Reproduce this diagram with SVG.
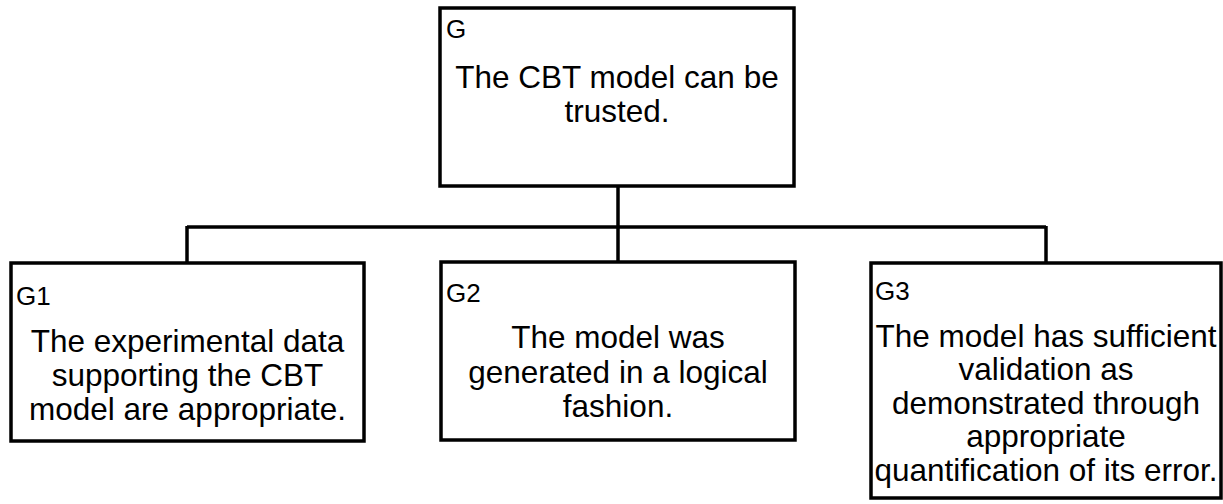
<svg xmlns="http://www.w3.org/2000/svg" width="1223" height="504" viewBox="0 0 1223 504">
  <style>
    .box { fill: #ffffff; stroke: #000000; stroke-width: 3.5; }
    .wire { fill: none; stroke: #000000; stroke-width: 3.5; }
    .id { font-family: "Liberation Sans", Arial, sans-serif; font-size: 26px; fill: #000000; }
    .body { font-family: "Liberation Sans", Arial, sans-serif; font-size: 31.5px; fill: #000000; text-anchor: middle; }
  </style>
  <rect width="1223" height="504" fill="#ffffff"/>

  <!-- tree connectors -->
  <g id="connectors">
    <path class="wire" d="M618 186 V262"/>
    <path class="wire" d="M187 227 H1046"/>
    <path class="wire" d="M187 226 V263"/>
    <path class="wire" d="M1046 226 V263"/>
  </g>

  <!-- top goal -->
  <g id="G">
    <rect class="box" x="440" y="8" width="354" height="178"/>
    <text class="id" x="446" y="38">G</text>
    <text class="body" x="617" y="88">The CBT model can be</text>
    <text class="body" x="617" y="122">trusted.</text>
  </g>

  <g id="G1">
    <rect class="box" x="11" y="263" width="353" height="178"/>
    <text class="id" x="16" y="305">G1</text>
    <text class="body" x="187.5" y="352">The experimental data</text>
    <text class="body" x="187.5" y="386">supporting the CBT</text>
    <text class="body" x="187.5" y="420">model are appropriate.</text>
  </g>

  <g id="G2">
    <rect class="box" x="441" y="262" width="354" height="178"/>
    <text class="id" x="446" y="302">G2</text>
    <text class="body" x="618" y="348">The model was</text>
    <text class="body" x="618" y="383">generated in a logical</text>
    <text class="body" x="618" y="417">fashion.</text>
  </g>

  <g id="G3">
    <rect class="box" x="871" y="263" width="350" height="235"/>
    <text class="id" x="875" y="300">G3</text>
    <text class="body" x="1046" y="346.5">The model has sufficient</text>
    <text class="body" x="1046" y="380">validation as</text>
    <text class="body" x="1046" y="413.5">demonstrated through</text>
    <text class="body" x="1046" y="447">appropriate</text>
    <text class="body" x="1046" y="480.5">quantification of its error.</text>
  </g>
</svg>
